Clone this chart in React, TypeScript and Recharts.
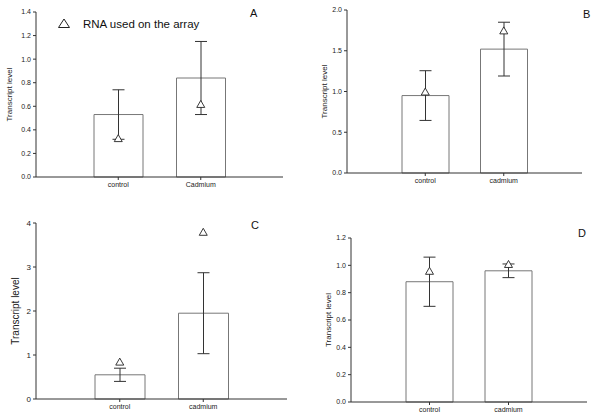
import { ComposedChart, Bar, Line, XAxis, YAxis, ErrorBar } from 'recharts';

const categoriesA = ['control', 'Cadmium'];
const categoriesBCD = ['control', 'cadmium'];

const meanA = [0.53, 0.84];
const errA = [0.21, 0.31];
const rnaA = [0.33, 0.62];
const ticksA = [0, 0.2, 0.4, 0.6, 0.8, 1.0, 1.2, 1.4];

const meanB = [0.95, 1.52];
const errB = [0.305, 0.33];
const rnaB = [1.0, 1.75];
const ticksB = [0, 0.5, 1.0, 1.5, 2.0];

const meanC = [0.55, 1.95];
const errC = [0.15, 0.92];
const rnaC = [0.85, 3.8];
const ticksC = [0, 1, 2, 3, 4];

const meanD = [0.88, 0.96];
const errD = [0.18, 0.05];
const rnaD = [0.96, 1.01];
const ticksD = [0, 0.2, 0.4, 0.6, 0.8, 1.0, 1.2];

const FONT = '"Liberation Sans", Arial, sans-serif';
const AXIS = '#333';

function rows(cats: string[], mean: number[], err: number[], rna: number[]) {
  return cats.map((c, i) => ({ cat: c, mean: mean[i], err: err[i], rna: rna[i] }));
}

const Triangle = (props: any) => {
  const { cx, cy } = props;
  if (cx == null || cy == null) return null;
  return (
    <polygon
      points={`${cx - 4},${cy + 3.5} ${cx + 4},${cy + 3.5} ${cx},${cy - 3.5}`}
      fill="#fff"
      stroke="#222"
      strokeWidth={0.9}
    />
  );
};

const panels = [
  { key: 'A', left: 0, top: 0, px: 36, py: 12, pr: 283, pb: 177, labelX: 9, labelSize: 8, tickSize: 7,
    data: rows(categoriesA, meanA, errA, rnaA), ticks: ticksA, fmt: (v: number) => v.toFixed(1) },
  { key: 'B', left: 300, top: 0, px: 47, py: 10, pr: 282, pb: 173, labelX: 24, labelSize: 8, tickSize: 7,
    data: rows(categoriesBCD, meanB, errB, rnaB), ticks: ticksB, fmt: (v: number) => v.toFixed(1) },
  { key: 'C', left: 0, top: 210, px: 36, py: 13, pr: 287, pb: 189, labelX: 15, labelSize: 10, tickSize: 8,
    data: rows(categoriesBCD, meanC, errC, rnaC), ticks: ticksC, fmt: (v: number) => String(v) },
  { key: 'D', left: 300, top: 210, px: 51, py: 28, pr: 287, pb: 192, labelX: 28, labelSize: 8, tickSize: 7,
    data: rows(categoriesBCD, meanD, errD, rnaD), ticks: ticksD, fmt: (v: number) => v.toFixed(1) },
];

function Panel({ p }: { p: (typeof panels)[number] }) {
  const W = 300;
  const H = 210;
  const xAxisH = 20;
  const plotW = p.pr - p.px;
  const pad = Math.round(plotW / 6);
  const barSize = Math.round(plotW * 0.2);
  const last = p.ticks[p.ticks.length - 1];
  return (
    <div style={{ position: 'absolute', left: p.left, top: p.top, width: W, height: H }}>
      <ComposedChart
        width={W}
        height={H}
        data={p.data}
        margin={{ top: p.py, left: 0, right: W - p.pr, bottom: H - p.pb - xAxisH }}
      >
        <XAxis
          dataKey="cat"
          height={xAxisH}
          padding={{ left: pad, right: pad }}
          stroke={AXIS}
          tickSize={3}
          tickMargin={2}
          tick={{ fontSize: 7, fill: '#222', fontFamily: FONT }}
        />
        <YAxis
          width={p.px}
          domain={[0, last]}
          ticks={p.ticks}
          tickFormatter={p.fmt}
          stroke={AXIS}
          tickSize={3}
          tickMargin={2}
          tick={{ fontSize: p.tickSize, fill: '#222', fontFamily: FONT }}
          label={{
            value: 'Transcript level',
            angle: -90,
            position: 'insideLeft',
            offset: p.labelX,
            textAnchor: 'middle',
            style: { fontSize: p.labelSize, fill: '#222', fontFamily: FONT, textAnchor: 'middle' },
          }}
        />
        <Bar dataKey="mean" fill="#fff" stroke="#777" strokeWidth={1} barSize={barSize} isAnimationActive={false}>
          <ErrorBar dataKey="err" width={6} stroke="#333" strokeWidth={1} direction="y" />
        </Bar>
        <Line
          dataKey="rna"
          stroke="none"
          dot={<Triangle />}
          activeDot={false}
          legendType="none"
          isAnimationActive={false}
        />
      </ComposedChart>
    </div>
  );
}

export default function App() {
  return (
    <div style={{ position: 'absolute', left: 0, top: 0, width: 600, height: 420, background: '#fff', fontFamily: FONT }}>
      {panels.map((p) => (
        <Panel key={p.key} p={p} />
      ))}
      <svg width={600} height={420} style={{ position: 'absolute', left: 0, top: 0, pointerEvents: 'none' }}>
        <polygon points="58.5,27.5 69.5,27.5 64,19" fill="#fff" stroke="#222" strokeWidth={1} />
        <text x={83} y={28} fontSize={11.5} fill="#111" fontFamily={FONT}>RNA used on the array</text>
        <text x={250} y={17} fontSize={11} fill="#111" fontFamily={FONT}>A</text>
        <text x={583} y={18} fontSize={11} fill="#111" fontFamily={FONT}>B</text>
        <text x={251} y={229} fontSize={11} fill="#111" fontFamily={FONT}>C</text>
        <text x={578} y={237} fontSize={11} fill="#111" fontFamily={FONT}>D</text>
      </svg>
    </div>
  );
}
